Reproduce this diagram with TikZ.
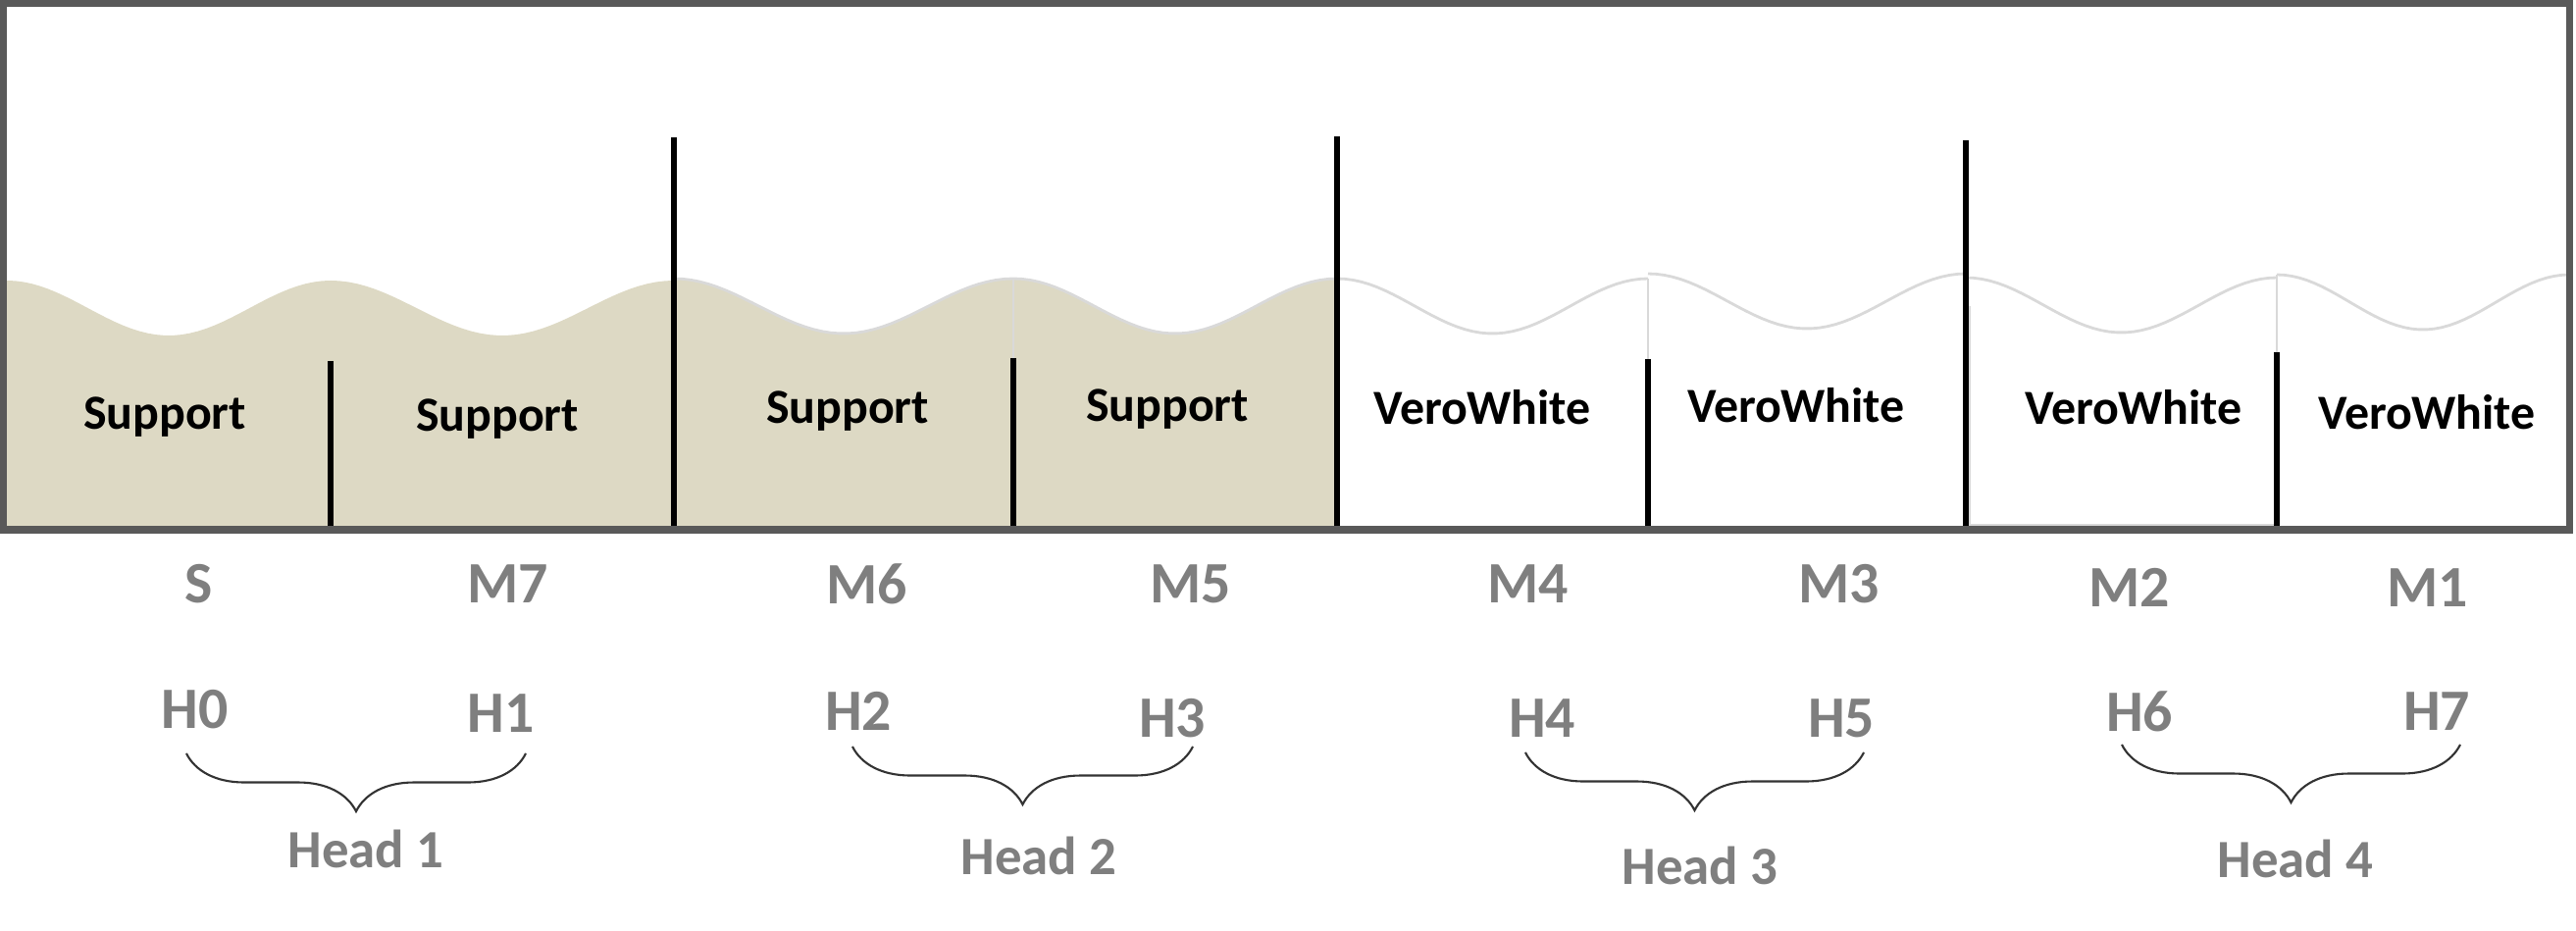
\documentclass[tikz,border=0pt]{standalone}
\usepackage{fontspec}
\setmainfont{Carlito}
\usetikzlibrary{decorations.pathreplacing}
\definecolor{supporttan}{HTML}{DDD9C4}
\definecolor{framegray}{HTML}{595959}
\definecolor{labelgray}{HTML}{7F7F7F}
\definecolor{wavegray}{HTML}{D9D9D9}

\begin{document}
\begin{tikzpicture}[x=0.01cm, y=-0.01cm,
	mat/.style={font=\bfseries\fontsize{14.2}{16}\selectfont, text=black, inner sep=0pt},
	lab/.style={font=\bfseries\fontsize{17}{20}\selectfont, text=labelgray, inner sep=0pt},
	headlab/.style={font=\bfseries\fontsize{15.6}{18}\selectfont, text=labelgray, inner sep=0pt},
	wall/.style={line width=1.45pt},
	headbrace/.style={decorate, decoration={brace, mirror, amplitude=0.59cm}, draw=black!80, line width=0.6pt}]

			\useasboundingbox (0,0) rectangle (2626,949);

			% support material, left half
			\fill[supporttan] (7,537)--plot[domain=0:1,samples=40,variable=\t]({7+330*\t},{314-28*cos(360*\t)})--(337,537)--cycle;
			\fill[supporttan] (337,537)--plot[domain=0:1,samples=40,variable=\t]({337+350*\t},{314-28*cos(360*\t)})--(687,537)--cycle;
			\fill[supporttan] (687,537)--plot[domain=0:1,samples=40,variable=\t]({687+346*\t},{312-28*cos(360*\t)})--(1033,537)--cycle;
			\fill[supporttan] (1033,537)--plot[domain=0:1,samples=40,variable=\t]({1033+330*\t},{312-28*cos(360*\t)})--(1363,537)--cycle;
			\draw[wavegray, line width=0.8pt] plot[domain=0:1,samples=40,variable=\t]({687+346*\t},{312-28*cos(360*\t)});
			\draw[wavegray, line width=0.8pt] plot[domain=0:1,samples=40,variable=\t]({1033+330*\t},{312-28*cos(360*\t)});

			% VeroWhite, right half
			\draw[wavegray, line width=0.8pt] plot[domain=0:1,samples=40,variable=\t]({1363+317*\t},{312-28*cos(360*\t)});
			\draw[wavegray, line width=0.8pt] plot[domain=0:1,samples=40,variable=\t]({1680+324*\t},{307-28*cos(360*\t)});
			\draw[wavegray, line width=0.8pt] plot[domain=0:1,samples=40,variable=\t]({2004+317*\t},{311-28*cos(360*\t)});
			\draw[wavegray, line width=0.8pt] plot[domain=0:1,samples=40,variable=\t]({2321+298*\t},{308-28*cos(360*\t)});
			\draw[wavegray, line width=0.8pt] (2008,540)--(2008,312)  (2008,535)--(2321,535);
			\draw[wavegray, line width=0.8pt] (1033,284)--(1033,365)  (1680,284)--(1680,366)  (2321,280)--(2321,359);

			% walls between materials
			\draw[wall] (687,140)--(687,540);
			\draw[wall] (1363,139)--(1363,540);
			\draw[wall] (2004,143)--(2004,542);
			\draw[wall] (337,368)--(337,543);
			\draw[wall] (1033,365)--(1033,543);
			\draw[wall] (1680,366)--(1680,542);
			\draw[wall] (2321,359)--(2321,536);

			\draw[framegray, line width=2pt] (3,3) rectangle (2619,540);

			\node[mat] (sup1) at (168,425) {Support};
			\node[mat] (sup2) at (507,427) {Support};
			\node[mat] (sup3) at (864,419) {Support};
			\node[mat] (sup4) at (1190,417) {Support};
			\node[mat] (vw1) at (1511,415) {VeroWhite};
			\node[mat] (vw2) at (1831,413) {VeroWhite};
			\node[mat] (vw3) at (2175,415) {VeroWhite};
			\node[mat] (vw4) at (2474,420) {VeroWhite};

			\node[lab] (s) at (203,595) {S};
			\node[lab] (m7) at (518,595) {M7};
			\node[lab] (m6) at (884,595) {M6};
			\node[lab] (m5) at (1214,595) {M5};
			\node[lab] (m4) at (1558,595) {M4};
			\node[lab] (m3) at (1875,595) {M3};
			\node[lab] (m2) at (2171,599) {M2};
			\node[lab] (m1) at (2475,599) {M1};

			\node[lab] (h0) at (199,723) {H0};
			\node[lab] (h1) at (511,727) {H1};
			\node[lab] (h2) at (875,725) {H2};
			\node[lab] (h3) at (1195,732) {H3};
			\node[lab] (h4) at (1572,732) {H4};
			\node[lab] (h5) at (1877,732) {H5};
			\node[lab] (h6) at (2181,725) {H6};
			\node[lab] (h7) at (2484,725) {H7};

			\draw[headbrace] (190,768)--(536,768);
			\draw[headbrace] (869,761)--(1216,761);
			\draw[headbrace] (1555,767)--(1900,767);
			\draw[headbrace] (2163,759)--(2508,759);

			\node[headlab] (head1) at (373,865) {Head 1};
			\node[headlab] (head2) at (1059,872) {Head 2};
			\node[headlab] (head3) at (1733,882) {Head 3};
			\node[headlab] (head4) at (2340,875) {Head 4};
		\end{tikzpicture}
\end{document}
